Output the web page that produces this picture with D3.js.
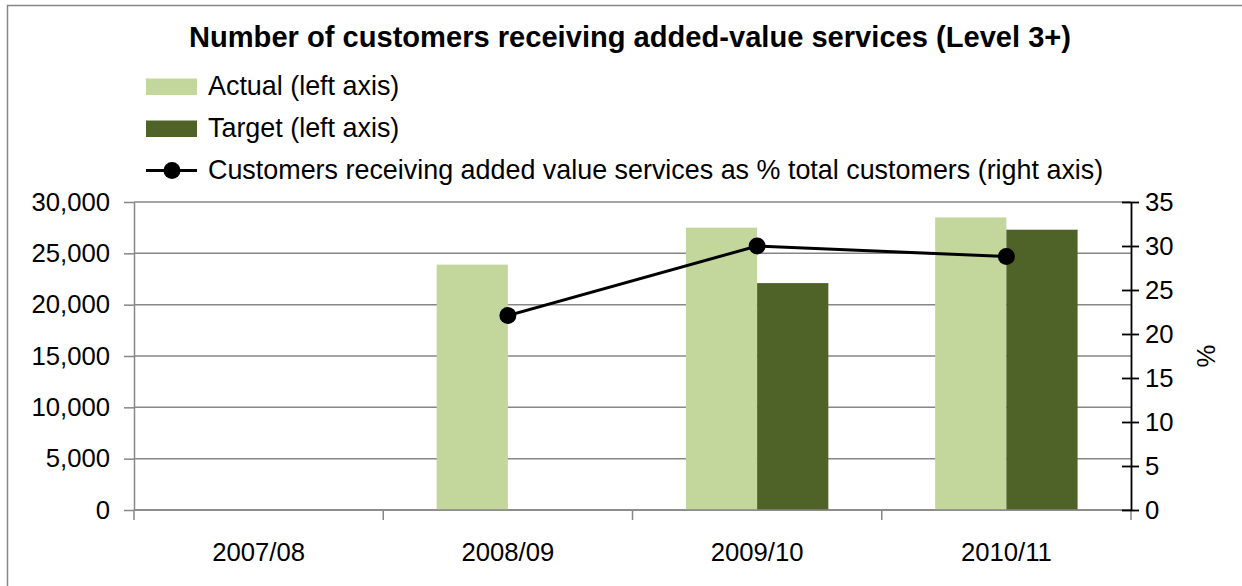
<!DOCTYPE html>
<html>
<head>
<meta charset="utf-8">
<script src="https://cdn.jsdelivr.net/npm/d3@7"></script>
<style>
  html, body { margin: 0; padding: 0; background: #fff; }
  svg { display: block; font-family: "Liberation Sans", Arial, sans-serif; }
</style>
</head>
<body>
<svg id="chart" width="1242" height="586"></svg>
<script>
// Financial years on the category axis
const categories = ["2007/08", "2008/09", "2009/10", "2010/11"];
// Customers receiving Level 3+ services (left axis)
const actual = [null, 23900, 27500, 28500];
const target = [null, null, 22100, 27300];
// Share of all customers, in percent (right axis)
const percent = [null, 22.1, 30.0, 28.8];
// Axis ticks
const leftTicks = [0, 5000, 10000, 15000, 20000, 25000, 30000];
const rightTicks = [0, 5, 10, 15, 20, 25, 30, 35];

const svg = d3.select("#chart");
const margin = { left: 134, right: 1131, top: 202, bottom: 510 };
const gridColor = "#878787";
const tickFont = 25.7;
const fontFamily = "Liberation Sans, Arial, sans-serif";

// Outer chart frame
svg.append("rect")
  .attr("x", 7.5).attr("y", 5.5).attr("width", 1400).attr("height", 800)
  .attr("fill", "#fff").attr("stroke", gridColor).attr("stroke-width", 1.5);

const x = d3.scaleBand().domain(categories).range([margin.left, margin.right]);
const yL = d3.scaleLinear().domain([0, 30000]).range([margin.bottom, margin.top]);
const yR = d3.scaleLinear().domain([0, 35]).range([margin.bottom, margin.top]);
const barW = x.bandwidth() / 3.5;

// Horizontal gridlines
svg.append("g").selectAll("line").data(leftTicks).join("line")
  .attr("x1", margin.left).attr("x2", margin.right)
  .attr("y1", d => yL(d)).attr("y2", d => yL(d))
  .attr("stroke", gridColor).attr("stroke-width", 1.5);

// Left value axis
const leftAxis = svg.append("g").attr("transform", `translate(${margin.left},0)`)
  .call(d3.axisLeft(yL).tickValues(leftTicks).tickFormat(d3.format(",")).tickSizeInner(10).tickSizeOuter(0).tickPadding(14));
leftAxis.select(".domain").attr("stroke", gridColor).attr("stroke-width", 1.5);
leftAxis.selectAll(".tick line").attr("stroke", gridColor).attr("stroke-width", 1.5);
leftAxis.selectAll("text").attr("font-size", tickFont).attr("fill", "#000")
  .attr("font-family", fontFamily);

// Bars
const bars = svg.append("g");
bars.selectAll("rect.actual").data(categories).join("rect")
  .attr("class", "actual")
  .filter((d, i) => actual[i] != null)
  .attr("x", d => x(d) + x.bandwidth() / 2 - barW)
  .attr("width", barW)
  .attr("y", d => yL(actual[categories.indexOf(d)]))
  .attr("height", d => yL(0) - yL(actual[categories.indexOf(d)]))
  .attr("fill", "#C3D69B");
bars.selectAll("rect.target").data(categories).join("rect")
  .attr("class", "target")
  .filter((d, i) => target[i] != null)
  .attr("x", d => x(d) + x.bandwidth() / 2)
  .attr("width", barW)
  .attr("y", d => yL(target[categories.indexOf(d)]))
  .attr("height", d => yL(0) - yL(target[categories.indexOf(d)]))
  .attr("fill", "#4F6228");

// Category axis
const bottomAxis = svg.append("g").attr("transform", `translate(0,${margin.bottom})`);
bottomAxis.append("line")
  .attr("x1", margin.left).attr("x2", margin.right)
  .attr("stroke", gridColor).attr("stroke-width", 1.5);
const bounds = categories.map(c => x(c)).concat([margin.right]);
bottomAxis.selectAll("line.tick").data(bounds).join("line")
  .attr("class", "tick")
  .attr("x1", d => d).attr("x2", d => d).attr("y1", 0).attr("y2", 10)
  .attr("stroke", gridColor).attr("stroke-width", 1.5);
bottomAxis.selectAll("text").data(categories).join("text")
  .attr("x", d => x(d) + x.bandwidth() / 2).attr("y", 51)
  .attr("text-anchor", "middle").attr("font-size", tickFont).attr("fill", "#000")
  .text(d => d);

// Right percentage axis
const rightAxis = svg.append("g").attr("transform", `translate(${margin.right},0)`)
  .call(d3.axisRight(yR).tickValues(rightTicks).tickSizeInner(0).tickSizeOuter(0).tickPadding(14));
rightAxis.select(".domain").attr("stroke", "#000").attr("stroke-width", 1.8);
rightAxis.selectAll(".tick").append("line")
  .attr("x1", -9).attr("x2", 8).attr("stroke", "#000").attr("stroke-width", 1.8);
rightAxis.selectAll("text").attr("font-size", tickFont).attr("fill", "#000")
  .attr("font-family", fontFamily);

svg.append("text")
  .attr("transform", `translate(1215,${(margin.top + margin.bottom) / 2}) rotate(-90)`)
  .attr("text-anchor", "middle").attr("font-size", tickFont).attr("fill", "#000")
  .text("%");

// Percentage line with markers
const pts = categories.map((c, i) => ({ c, v: percent[i] })).filter(d => d.v != null);
const line = d3.line().x(d => x(d.c) + x.bandwidth() / 2).y(d => yR(d.v));
svg.append("path").datum(pts).attr("d", line)
  .attr("fill", "none").attr("stroke", "#000").attr("stroke-width", 3);
svg.append("g").selectAll("circle").data(pts).join("circle")
  .attr("cx", d => x(d.c) + x.bandwidth() / 2).attr("cy", d => yR(d.v))
  .attr("r", 8.5).attr("fill", "#000");

// Title
svg.append("text")
  .attr("x", 630).attr("y", 47)
  .attr("text-anchor", "middle").attr("font-size", 29.1).attr("font-weight", "bold").attr("fill", "#000")
  .text("Number of customers receiving added-value services (Level 3+)");

// Legend
const legend = svg.append("g");
const legendItems = [
  { label: "Actual (left axis)", type: "bar", color: "#C3D69B" },
  { label: "Target (left axis)", type: "bar", color: "#4F6228" },
  { label: "Customers receiving added value services as % total customers (right axis)", type: "line", color: "#000" }
];
legendItems.forEach((it, i) => {
  const base = 95 + i * 42;
  const cy = base - 8.5;
  if (it.type === "bar") {
    legend.append("rect").attr("x", 146).attr("y", base - 16.5).attr("width", 51).attr("height", 16.5).attr("fill", it.color);
  } else {
    legend.append("line").attr("x1", 146).attr("x2", 197).attr("y1", cy).attr("y2", cy)
      .attr("stroke", it.color).attr("stroke-width", 3);
    legend.append("circle").attr("cx", 172).attr("cy", cy).attr("r", 8.5).attr("fill", it.color);
  }
  legend.append("text").attr("x", 208).attr("y", base)
    .attr("font-size", 26.9).attr("fill", "#000").text(it.label);
});
</script>
</body>
</html>
